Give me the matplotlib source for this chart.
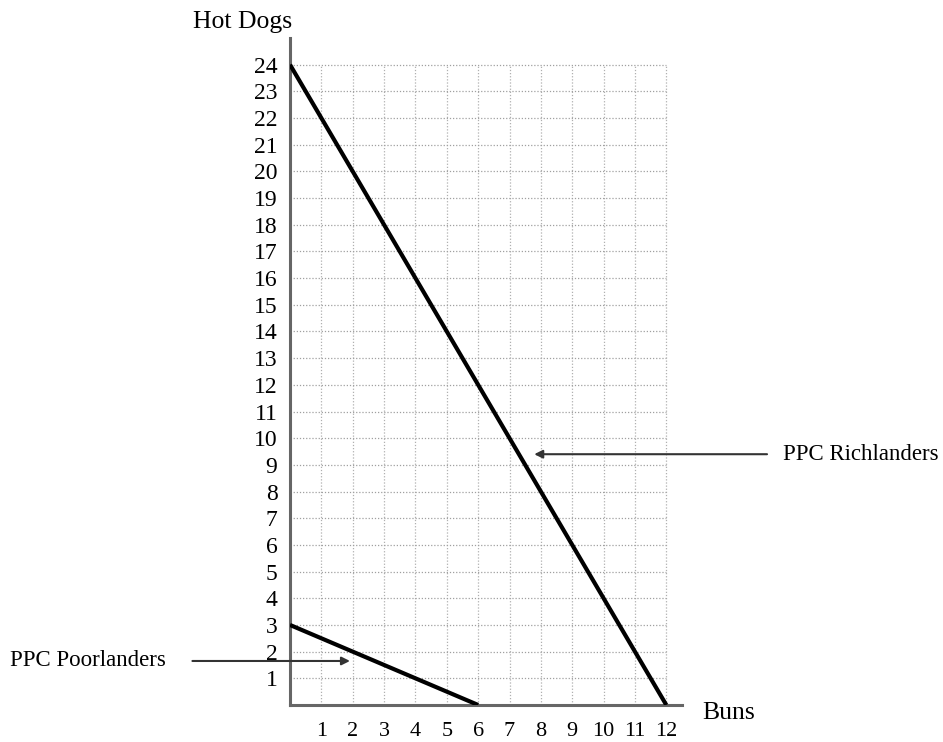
import matplotlib
matplotlib.use("Agg")
import matplotlib.pyplot as plt
import numpy as np

plt.rcParams['font.family'] = ['Liberation Serif', 'DejaVu Serif']

# Data
rich_x = [0, 12]
rich_y = [24, 0]
poor_x = [0, 6]
poor_y = [3, 0]
x_ticks = list(range(1, 13))
y_ticks = list(range(1, 25))

fig = plt.figure(figsize=(9.43, 7.42), dpi=100)
ax = fig.add_axes([290/943, 1-705/742, 392/943, 667/742])
ax.set_xlim(0, 12.5)
ax.set_ylim(0, 25)

# grid up to 12 / 24
for xv in x_ticks:
    ax.plot([xv, xv], [0, 24], color='#b0b0b0', lw=0.9, ls=(0, (1, 1.5)), zorder=1)
for yv in y_ticks:
    ax.plot([0, 12], [yv, yv], color='#a0a0a0', lw=0.9, ls=(0, (1, 1.5)), zorder=1)

ax.plot(rich_x, rich_y, color='black', lw=3, zorder=3, solid_capstyle='butt')
ax.plot(poor_x, poor_y, color='black', lw=3, zorder=3, solid_capstyle='butt')

for s in ['top', 'right']:
    ax.spines[s].set_visible(False)
for s in ['left', 'bottom']:
    ax.spines[s].set_color('#666666')
    ax.spines[s].set_linewidth(2.2)

ax.set_xticks(x_ticks)
ax.set_xticklabels([str(v) for v in x_ticks], fontsize=16)
ax.set_yticks(y_ticks)
ax.set_yticklabels([str(v) for v in y_ticks], fontsize=17)
ax.tick_params(axis='y', length=0, pad=9)
ax.tick_params(axis='x', length=0, pad=12)
for lbl in ax.get_yticklabels():
    lbl.set_va('center_baseline')

fig.text(193/943, 1-22/742, 'Hot Dogs', fontsize=18.5, ha='left', va='center')
fig.text(702/943, 1-713/742, 'Buns', fontsize=18.5, ha='left', va='center')

# annotations
ax.annotate('', xy=(7.7, 9.4), xytext=(15.3, 9.4),
            arrowprops=dict(arrowstyle='-|>', color='#333333', lw=1.5, mutation_scale=12),
            annotation_clip=False)
fig.text(783/943, 1-454/742, 'PPC Richlanders', fontsize=16.5, ha='left', va='center')

ax.annotate('', xy=(2.0, 1.65), xytext=(-3.2, 1.65),
            arrowprops=dict(arrowstyle='-|>', color='#333333', lw=1.5, mutation_scale=12),
            annotation_clip=False)
fig.text(10/943, 1-661/742, 'PPC Poorlanders', fontsize=16.5, ha='left', va='center')

fig.savefig('out.png', dpi=100)
